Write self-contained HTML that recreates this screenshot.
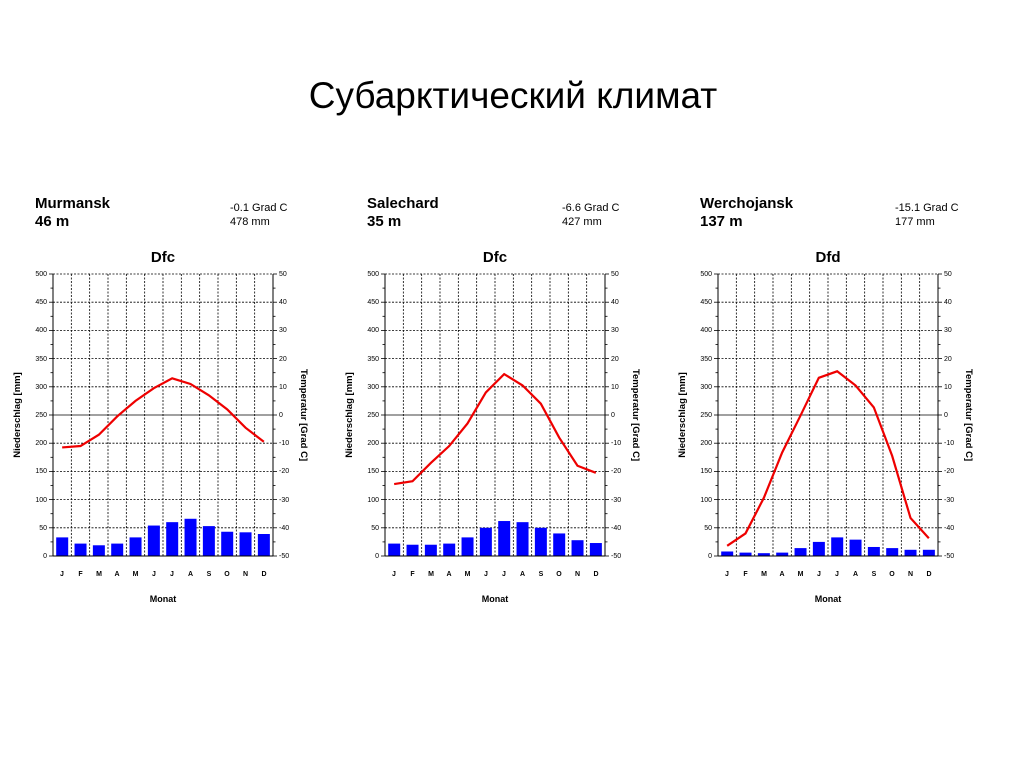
<!DOCTYPE html>
<html><head><meta charset="utf-8"><style>
body{margin:0;background:#fff;width:1024px;height:767px;overflow:hidden}
svg{font-family:"Liberation Sans",Arial,sans-serif}
.t{font-size:7px}
.h{font-size:15px;font-weight:bold}
.s{font-size:11px}
</style></head><body>
<svg width="1024" height="767" xmlns="http://www.w3.org/2000/svg">
<text x="513" y="108" text-anchor="middle" font-size="37" font-family="Liberation Sans, sans-serif">Субарктический климат</text>
<g id="c0" transform="translate(53,274)">
<text class="h" x="-18" y="-66">Murmansk</text><text class="h" x="-18" y="-48">46 m</text>
<text class="s" x="177" y="-63">-0.1 Grad C</text><text class="s" x="177" y="-49">478 mm</text>
</g>
<g id="c1" transform="translate(385,274)">
<text class="h" x="-18" y="-66">Salechard</text><text class="h" x="-18" y="-48">35 m</text>
<text class="s" x="177" y="-63">-6.6 Grad C</text><text class="s" x="177" y="-49">427 mm</text>
</g>
<g id="c2" transform="translate(718,274)">
<text class="h" x="-18" y="-66">Werchojansk</text><text class="h" x="-18" y="-48">137 m</text>
<text class="s" x="177" y="-63">-15.1 Grad C</text><text class="s" x="177" y="-49">177 mm</text>
</g>
<g id="common">
<text class="h" x="110" y="-12" text-anchor="middle">Dfc</text>
<g class="t" text-anchor="end">
<text x="-6" y="284">0</text><text x="-6" y="256">50</text><text x="-6" y="228">100</text><text x="-6" y="199">150</text><text x="-6" y="171">200</text><text x="-6" y="143">250</text><text x="-6" y="115">300</text><text x="-6" y="87">350</text><text x="-6" y="58">400</text><text x="-6" y="30">450</text><text x="-6" y="2">500</text>
</g>
<g class="t" text-anchor="start">
<text x="226" y="284">-50</text><text x="226" y="256">-40</text><text x="226" y="228">-30</text><text x="226" y="199">-20</text><text x="226" y="171">-10</text><text x="226" y="143">0</text><text x="226" y="115">10</text><text x="226" y="87">20</text><text x="226" y="58">30</text><text x="226" y="30">40</text><text x="226" y="2">50</text>
</g>
<g class="t" text-anchor="middle" font-weight="bold">
<text x="9" y="302">J</text><text x="27.5" y="302">F</text><text x="46" y="302">M</text><text x="64" y="302">A</text><text x="82.5" y="302">M</text><text x="101" y="302">J</text><text x="119" y="302">J</text><text x="137.5" y="302">A</text><text x="156" y="302">S</text><text x="174" y="302">O</text><text x="192.5" y="302">N</text><text x="211" y="302">D</text>
</g>
<text x="110" y="328" text-anchor="middle" font-size="9" font-weight="bold">Monat</text>
<text transform="translate(-33,141) rotate(-90)" text-anchor="middle" font-size="9.5" font-weight="bold">Niederschlag [mm]</text>
<text transform="translate(248,141) rotate(90)" text-anchor="middle" font-size="9.5" font-weight="bold">Temperatur [Grad C]</text>
</g>
</svg>
<script>
var NS="http://www.w3.org/2000/svg";
function el(p,n,a){var e=document.createElementNS(NS,n);for(var k in a)e.setAttribute(k,a[k]);p.appendChild(e);return e;}
var data=[
{p:[33,22,19,22,33,54,60,66,53,43,42,39],t:[-11.5,-11,-7,-0.5,5,9.5,13,11,7,2,-4.5,-9.5]},
{p:[22,20,20,22,33,50,62,60,50,40,28,23],t:[-24.5,-23.5,-17,-11,-3,8,14.5,10.5,4,-8,-18,-20.5]},
{p:[8,6,5,6,14,25,33,29,16,14,11,11],t:[-46.4,-42,-29.4,-13.3,-0.2,13.2,15.5,10.5,2.7,-14.5,-36.5,-43.7]}];
var common=document.getElementById("common");
for(var c=0;c<3;c++){
 var g=document.getElementById("c"+c),d=data[c],cw=220/12;
 var cl=common.cloneNode(true);cl.removeAttribute("id");
 if(c==2)cl.querySelector("text").textContent="Dfd";
 for(var i=1;i<12;i++)el(g,"line",{x1:i*cw,x2:i*cw,y1:0,y2:282,stroke:"#000","stroke-width":0.8,"stroke-dasharray":"2,1.5"});
 for(var j=1;j<10;j++){if(j==5)continue;var y=j*28.2;el(g,"line",{x1:0,x2:220,y1:y,y2:y,stroke:"#000","stroke-width":0.8,"stroke-dasharray":"2,1.5"});}
 el(g,"line",{x1:0,x2:220,y1:0,y2:0,stroke:"#000","stroke-width":0.8,"stroke-dasharray":"2,1.5"});
 el(g,"line",{x1:0,x2:220,y1:141,y2:141,stroke:"#000","stroke-width":0.8});
 for(var i=0;i<12;i++){var h=d.p[i]*0.564;el(g,"rect",{x:i*cw+3.2,y:282-h,width:12,height:h,fill:"#0000ff"});}
 el(g,"line",{x1:0,x2:0,y1:0,y2:282,stroke:"#000","stroke-width":1});
 el(g,"line",{x1:220,x2:220,y1:0,y2:282,stroke:"#000","stroke-width":1});
 el(g,"line",{x1:0,x2:220,y1:282,y2:282,stroke:"#000","stroke-width":1});
 for(var k=0;k<=20;k++){var y=k*14.1,L=k%2?2.5:4;el(g,"line",{x1:-L,x2:0,y1:y,y2:y,stroke:"#000","stroke-width":0.8});el(g,"line",{x1:220,x2:220+L,y1:y,y2:y,stroke:"#000","stroke-width":0.8});}
 var pts=d.t.map(function(t,i){return ((i+0.5)*cw)+","+(141-t*2.82);}).join(" ");
 el(g,"polyline",{points:pts,fill:"none",stroke:"#ee0000","stroke-width":2.2});
 g.appendChild(cl);
}
common.parentNode.removeChild(common);
</script>
</body></html>
